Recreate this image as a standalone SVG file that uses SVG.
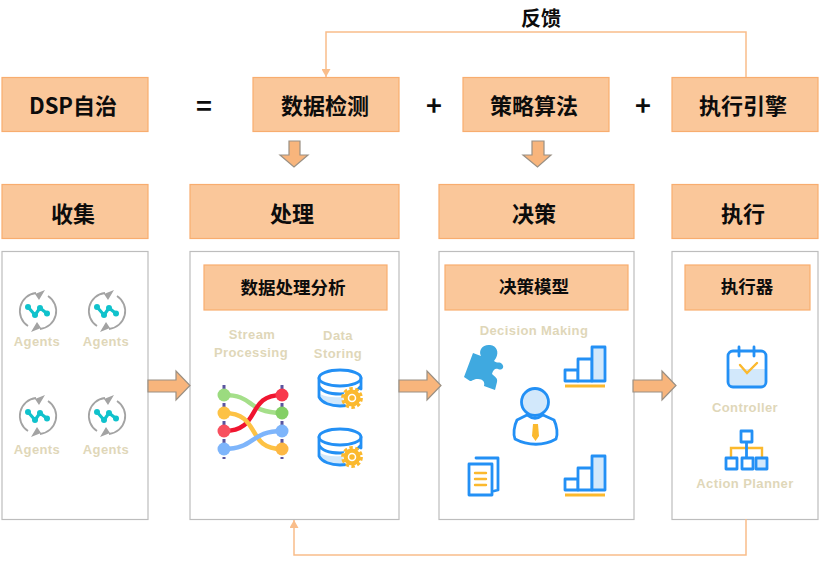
<svg xmlns="http://www.w3.org/2000/svg" width="821" height="564" viewBox="0 0 821 564">
<style>
.box{fill:#fac79a;stroke:#f8ad6f;stroke-width:1.2}
.panel{fill:#fff;stroke:#bdbdbd;stroke-width:1.2}
.t{font-family:"Noto Sans CJK SC","Liberation Sans",sans-serif;font-weight:700;fill:#0c0c0c;text-anchor:middle}
.t22{font-size:22px}.t18{font-size:17.500px}.t26{font-size:27px}
.lab{font-family:"Liberation Sans",sans-serif;font-weight:700;font-size:13px;letter-spacing:.4px;fill:#dfd7b9;text-anchor:middle}
.block{fill:#f8b57c;stroke:#9a9084;stroke-width:1.200}
.fb{fill:none;stroke:#f9bd8a;stroke-width:1.500}
.blue{fill:none;stroke:#2390f5;stroke-width:2.800;stroke-linejoin:round;stroke-linecap:round}
.bluef{fill:#d2e8fb;stroke:#2390f5;stroke-width:2.800;stroke-linejoin:round}
.white{fill:#fff;stroke:#2390f5;stroke-width:2.800;stroke-linejoin:round}
.amber{fill:none;stroke:#fbb92e;stroke-width:2.400;stroke-linecap:round}
</style>
<defs>
<marker id="tip" markerUnits="userSpaceOnUse" markerWidth="10" markerHeight="9" refX="8" refY="4.500" orient="auto"><path d="M0 0L8 4.500L0 9Z" fill="#f9bd8a"/></marker>
<g id="agent">
<path d="M-2-18A18 18 0 0 0-10 15M2 18A18 18 0 0 0 10-15" fill="none" stroke="#a3a3a3" stroke-width="1.800"/>
<path d="M7-21L-3-17L1-11ZM-7 21L3 17L-1 11Z" fill="#a3a3a3"/>
<path d="M-10-4L-3 4L2-3L9 2.500" fill="none" stroke="#10c2cc" stroke-width="3.200" stroke-linejoin="round"/>
<circle cx="-10" cy="-4" r="3" fill="#10c2cc"/><circle cx="-3" cy="4" r="3" fill="#10c2cc"/><circle cx="2" cy="-3" r="3" fill="#10c2cc"/><circle cx="9" cy="2.500" r="3" fill="#10c2cc"/>
</g>
<g id="db">
<path d="M-19 7V12C-15 17-6 19 2 19L10 18L8 9C0 11-12 11-19 7Z" fill="#d2e8fb"/>
<ellipse class="white" cx="1" cy="-9" rx="21" ry="8"/>
<path class="blue" d="M-20-9V-1C-17 5-8 7 1 7C9 7 18 5 22-1V-9M-20-1V10C-17 16-8 19 1 19L8 18.500M22-1L22 2"/>
<circle cx="13" cy="11" r="9" fill="#fbb92e" stroke="#fff" stroke-width="1"/>
<circle cx="13" cy="11" r="9.500" fill="none" stroke="#fbb92e" stroke-width="2.800" stroke-dasharray="3.500 2.470"/>
<circle cx="13" cy="11" r="3.500" fill="#fbb92e" stroke="#fff" stroke-width="1.500"/>
</g>
<g id="bars">
<path class="white" d="M-20 2H-7V13H-20Z"/>
<path class="white" d="M-7-9H7V13H-7Z"/>
<path class="bluef" d="M7-21H20V13H7Z"/>
<path d="M-20 18H20" stroke="#fbb92e" stroke-width="2.800"/>
</g>
</defs>
<rect width="821" height="564" fill="#fff"/>
<g id="n-dsp"><rect class="box" x="2" y="77.500" width="146" height="54"/><text class="t t22" x="73" y="114">DSP自治</text></g>
<text class="t t26" x="204" y="116" id="eq">=</text>
<g id="n-detect"><rect class="box" x="253" y="77.500" width="146" height="54"/><text class="t t22" x="325" y="114">数据检测</text></g>
<text class="t t26" x="434" y="116">+</text>
<g id="n-strategy"><rect class="box" x="463" y="77.500" width="146" height="54"/><text class="t t22" x="534" y="114">策略算法</text></g>
<text class="t t26" x="643" y="116">+</text>
<g id="n-engine"><rect class="box" x="672" y="77.500" width="146" height="54"/><text class="t t22" x="743" y="114">执行引擎</text></g>
<g id="n-collect"><rect class="box" x="2" y="184.500" width="146" height="54"/><text class="t t22" x="73" y="222">收集</text></g>
<g id="n-process"><rect class="box" x="190" y="184.500" width="209" height="54"/><text class="t t22" x="292" y="222">处理</text></g>
<g id="n-decide"><rect class="box" x="439" y="184.500" width="195" height="54"/><text class="t t22" x="534" y="222">决策</text></g>
<g id="n-execute"><rect class="box" x="672" y="184.500" width="146" height="54"/><text class="t t22" x="743" y="222">执行</text></g>
<g id="n-agents">
<rect class="panel" x="2" y="251.500" width="146" height="268"/>
<use href="#agent" x="38" y="311"/><use href="#agent" x="107" y="311"/><use href="#agent" x="38" y="416"/><use href="#agent" x="107" y="416"/>
<text class="lab" x="37" y="346">Agents</text><text class="lab" x="106" y="346">Agents</text><text class="lab" x="37" y="454">Agents</text><text class="lab" x="106" y="454">Agents</text>
</g>
<g id="n-analysis">
<rect class="panel" x="190" y="251.500" width="209" height="268"/>
<rect class="box" x="204" y="265" width="183" height="45"/><text class="t t18" x="293" y="294">数据处理分析</text>
<text class="lab" x="252" y="339">Stream</text><text class="lab" x="251" y="357">Processing</text>
<text class="lab" x="338" y="340">Data</text><text class="lab" x="338" y="358">Storing</text>
<path d="M224 385V459M282 385V459" stroke="#5a55a0" stroke-width="3" stroke-dasharray="4 2"/>
<g fill="none" stroke-width="4.500">
<path d="M224 395C255 395 245 412 282 413" stroke="#a5df8a"/>
<path d="M224 431C262 431 245 395 282 395" stroke="#f01530"/>
<path d="M224 413C262 413 245 449 282 449" stroke="#fdc244"/>
<path d="M224 449C255 449 250 431 282 431" stroke="#7eb5fb"/>
</g>
<circle cx="224" cy="395" r="6.500" fill="#9bdb7f"/><circle cx="224" cy="413" r="6.500" fill="#fdc244"/><circle cx="224" cy="431" r="6.500" fill="#f8505f"/><circle cx="224" cy="449" r="6.500" fill="#7eb5fb"/>
<circle cx="282" cy="395" r="6.500" fill="#f8384c"/><circle cx="282" cy="413" r="6.500" fill="#84cf66"/><circle cx="282" cy="431" r="6.500" fill="#7eb5fb"/><circle cx="282" cy="449" r="6.500" fill="#fdb844"/>
<use href="#db" x="339" y="387"/><use href="#db" x="339" y="446"/>
</g>
<g id="n-model">
<rect class="panel" x="439" y="251.500" width="195" height="268"/>
<rect class="box" x="445" y="265" width="183" height="45"/><text class="t t18" x="534" y="293">决策模型</text>
<text class="lab" x="534" y="335">Decision Making</text>
<path d="M473 353L481 356C478 350 483 344 490 345C497 346 499 352 496 358L494 361C497 364 500 361 502 364C505 367 502 371 498 369C495 368 493 370 492 374C495 377 498 378 497 382L495 390L484 386C485 382 483 379 478 379C473 379 473 381 470 381L464 377Z" fill="#3fa9e0"/>
<use href="#bars" x="585" y="368"/><use href="#bars" x="585" y="477"/>
<circle class="bluef" cx="535" cy="402" r="13.500" stroke-width="3"/>
<path class="blue" stroke-width="3" d="M527 415L517 420C514 426 513 434 515 439C528 446 544 446 556 439C558 434 557 426 554 420L543 415C538 419 532 419 527 415Z" fill="#fff"/>
<path d="M533 424H538L539 436L535.500 441L532 436Z" fill="#fbb92e"/>
<path class="blue" d="M476 458H498V490L494 491"/>
<path class="white" d="M469 464H492V495H469Z"/>
<path class="amber" d="M475 473H486M475 479H486M475 485H486"/>
</g>
<g id="n-actuator">
<rect class="panel" x="672" y="251.500" width="146" height="268"/>
<rect class="box" x="685" y="265" width="125" height="45"/><text class="t t18" x="747" y="293">执行器</text>
<path d="M729 369H765V382C765 385 763 387 760 387H734C731 387 729 385 729 382Z" fill="#d2e8fb"/>
<rect class="blue" x="728" y="351" width="38" height="36" rx="5"/>
<path class="blue" d="M739 347V356M754 347V356"/>
<path class="amber" stroke-width="3.200" d="M740 365L747 373L757 363"/>
<path class="amber" d="M731 457V448H762V457"/>
<path class="blue" d="M746.500 443V458"/>
<rect class="white" x="741" y="431" width="11" height="11"/>
<rect class="white" x="726" y="458" width="11" height="11"/><rect class="white" x="742" y="458" width="11" height="11"/><rect class="bluef" x="756" y="458" width="11" height="11"/>
<text class="lab" x="745" y="412">Controller</text>
<text class="lab" x="745" y="488">Action Planner</text>
</g>
<g id="connectors">
<path class="fb" d="M746 77V32H326V77" marker-end="url(#tip)"/>
<path class="fb" d="M746 519V555H294V520" marker-end="url(#tip)"/>
<path class="block" d="M148 380H176V371L190 385.500L176 400V392H148Z"/>
<path class="block" d="M399 380H427V371L441 385.500L427 400V392H399Z"/>
<path class="block" d="M633 380H662V371L676 385.500L662 400V392H633Z"/>
<path class="block" d="M289 141H300V155H308L294 167L280 155H289Z"/>
<path class="block" d="M532 141H544V155H551L537.500 167L523 155H532Z"/>
</g>
<text class="t" style="font-size:20px" x="541" y="26">反馈</text>
</svg>
